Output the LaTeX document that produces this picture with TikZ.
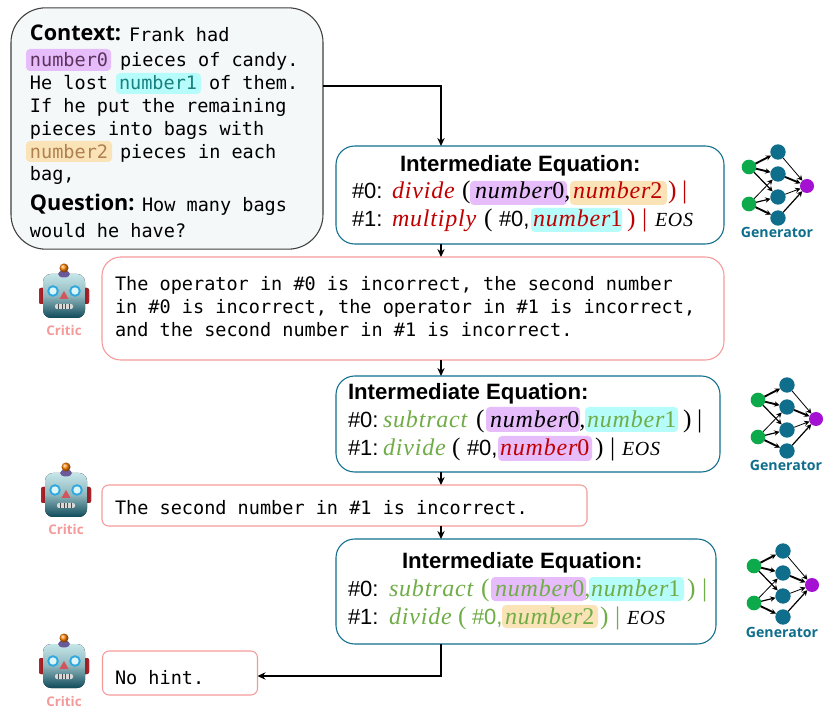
\RequirePackage{fix-cm}
\documentclass[tikz,border=0pt]{standalone}
\usepackage{fontspec}
\usetikzlibrary{arrows.meta}
\newfontfamily\monoface{DejaVu Sans Mono}
\newfontfamily\arialface{Liberation Sans}
\newfontfamily\headface{Open Sans}
\newfontfamily\eqface[LetterSpace=3.4]{Liberation Serif}
\definecolor{hlpurple}{HTML}{E6BCFB}
\definecolor{hlcyan}{HTML}{B6FCFB}
\definecolor{hlorange}{HTML}{FBE3B8}
\definecolor{eqred}{HTML}{C00000}
\definecolor{eqgreen}{HTML}{70AD47}
\definecolor{genblue}{HTML}{0F6E8C}
\definecolor{critpink}{HTML}{F59A9A}
\definecolor{ctxfill}{HTML}{F4F8F9}
\definecolor{ctxedge}{HTML}{404040}
\definecolor{nodegreen}{HTML}{0DAA4B}
\definecolor{nodepurple}{HTML}{A411D2}
\definecolor{headtop}{HTML}{C5E6E9}
\definecolor{headmid}{HTML}{8EB6BC}
\definecolor{headlow}{HTML}{0E4A5A}
\definecolor{earred}{HTML}{B3262B}
\definecolor{eardark}{HTML}{6E1418}
\definecolor{antenna}{HTML}{6B5A9A}
\definecolor{eyering}{HTML}{2FA8E0}
\definecolor{eyefill}{HTML}{DDF6F6}
\definecolor{nosered}{HTML}{D0555C}
\tikzset{
  x=0.75pt,y=-0.75pt,
  pagebox/.style={draw,inner sep=0pt,outer sep=0pt,rectangle},
  ctxbox/.style={pagebox,draw=ctxedge,fill=ctxfill,line width=0.8pt,rounded corners=26pt,minimum width=234pt,minimum height=181pt},
  eqbox/.style={pagebox,draw=genblue,line width=0.8pt,rounded corners=14pt},
  critbox/.style={pagebox,draw=critpink,line width=0.8pt},
  runtext/.style={anchor=base west,inner sep=0pt,outer sep=0pt},
  monotext/.style={runtext,font=\monoface\fontsize{13.9}{16}\selectfont},
  headtext/.style={runtext,font=\headface\bfseries\fontsize{16.2}{18}\selectfont},
  titletext/.style={runtext,font=\arialface\bfseries\fontsize{16.65}{18}\selectfont},
  hlbox/.style={rounded corners=3pt},
  thinlink/.style={line width=0.9pt,-{Stealth[length=6pt,width=5.5pt]}},
  boldlink/.style={line width=1.5pt,-{Stealth[length=6pt,width=5.5pt]}},
  netthin/.style={line width=0.6pt,-{Stealth[length=4pt,width=4pt]}},
  netmid/.style={line width=0.9pt,-{Stealth[length=4pt,width=4pt]}},
  netbold/.style={line width=1.4pt,-{Stealth[length=4pt,width=4pt]}},
  greennode/.style={circle,fill=nodegreen,minimum size=11pt,inner sep=0pt,outer sep=0pt},
  tealnode/.style={circle,fill=genblue,minimum size=11.5pt,inner sep=0pt,outer sep=0pt},
  purplenode/.style={circle,fill=nodepurple,minimum size=10.5pt,inner sep=0pt,outer sep=0pt},
  caption/.style={inner sep=0pt,outer sep=0pt,anchor=base,font=\headface\bfseries\fontsize{10.6}{13}\selectfont},
}
\newcounter{runc}
\newcommand\mrun[4]{\stepcounter{runc}\node[runtext,text=#1,font=\eqface\itshape\fontsize{18}{20}\selectfont] (run\arabic{runc}) at (#2,#3) {#4};}
\newcommand\srun[4]{\stepcounter{runc}\node[runtext,text=#1,font=\arialface\fontsize{16.5}{20}\selectfont] (run\arabic{runc}) at (#2,#3) {#4};}
\newcommand\uprun[4]{\stepcounter{runc}\node[runtext,text=#1,font=\eqface\fontsize{19}{20}\selectfont] (run\arabic{runc}) at (#2,#3) {#4};}
\newcommand\eos[2]{\stepcounter{runc}\node[runtext,font=\eqface\itshape\fontsize{15}{16}\selectfont] (run\arabic{runc}) at (#1,#2) {EOS};}
\newcommand\mono[4]{\stepcounter{runc}\node[monotext,text=#1] (run\arabic{runc}) at (#2,#3) {#4};}
\newcommand\hl[5]{\fill[hlbox,#5] (#1,#2) rectangle (#3,#4);}
\newcommand\robot[3]{%
  \begin{scope}[shift={(#1,#2)}]
    \fill[rounded corners=1.5pt,left color=earred,right color=eardark] (39,288) rectangle (47,304);
    \fill[rounded corners=1.5pt,left color=eardark,right color=earred] (81,288) rectangle (89,304);
    \fill[rounded corners=6pt,top color=headtop,bottom color=headlow,middle color=headmid] (43,274) rectangle (85,318);
    \fill[antenna] (64,274) ellipse (6 and 3.5);
    \shade[ball color=orange] (64,268) circle (4.5);
    \foreach \ex in {53,75}{\draw[line width=1.4pt,draw=eyering,fill=eyefill] (\ex,291) circle (4.8);}
    \fill[nosered] (64,291) -- (68.5,299) -- (59.5,299) -- cycle;
    \fill[rounded corners=1.5pt,black!15] (55,304) rectangle (73,309);
    \foreach \tx in {58.6,62.2,65.8,69.4}{\draw[line width=0.5pt,black!70] (\tx,304) -- (\tx,309);}
    \node[caption,text=critpink,font=\headface\bfseries\fontsize{10}{12}\selectfont] (#3) at (64,336) {Critic};
  \end{scope}}
\newcommand\netgen[3]{%
  \begin{scope}[shift={(#1,#2)},name prefix=#3]
    \node[greennode] (g1) at (749,167) {};
    \node[greennode] (g2) at (749,204) {};
    \node[tealnode] (t1) at (778,152) {};
    \node[tealnode] (t2) at (778,174) {};
    \node[tealnode] (t3) at (778,197) {};
    \node[tealnode] (t4) at (778,218) {};
    \node[purplenode] (p) at (807,186) {};
    \draw[netbold] (g1) -- (t1);
    \draw[netbold] (g1) -- (t2);
    \draw[netmid] (g1) -- (t3);
    \draw[netthin] (g2) -- (t2);
    \draw[netmid] (g2) -- (t3);
    \draw[netbold] (g2) -- (t4);
    \draw[netthin] (t1) -- (p);
    \draw[netbold] (t2) -- (p);
    \draw[netthin] (t3) -- (p);
    \draw[netmid] (t4) -- (p);
    \node[caption,text=genblue] (label) at (777,238) {Generator};
  \end{scope}}
\newcommand\numz[1]{number{\upshape #1}}
\begin{document}
\begin{tikzpicture}
\useasboundingbox[fill=white] (0,0) rectangle (840,720);
% boxes
\node[ctxbox] (ctx) at (167,128.5) {};
\node[eqbox,minimum width=291pt,minimum height=73.5pt] (eq1) at (530,195) {};
\node[critbox,rounded corners=14pt,minimum width=466.5pt,minimum height=77.25pt] (crit1) at (413,308.5) {};
\node[eqbox,minimum width=288pt,minimum height=72pt] (eq2) at (528,424) {};
\node[critbox,rounded corners=5pt,minimum width=363.75pt,minimum height=30.75pt] (crit2) at (344.5,505.5) {};
\node[eqbox,minimum width=285pt,minimum height=78.75pt] (eq3) at (526,591.5) {};
\node[critbox,rounded corners=5pt,minimum width=116.25pt,minimum height=33pt] (crit3) at (180,673) {};
% connectors
\coordinate (flowtop) at (441,86);
\coordinate (flowlow) at (441,676);
\draw[boldlink] (ctx.east|-flowtop) -- (flowtop) -- (flowtop|-eq1.north);
\draw[thinlink] (flowtop|-eq1.south) -- (flowtop|-crit1.north);
\draw[thinlink] (flowtop|-crit1.south) -- (flowtop|-eq2.north);
\draw[thinlink] (flowtop|-eq2.south) -- (flowtop|-crit2.north);
\draw[thinlink] (flowtop|-crit2.south) -- (flowtop|-eq3.north);
\draw[boldlink] (flowtop|-eq3.south) -- (flowlow) -- (crit3.east|-flowlow);
% context highlights
\hl{26}{49}{111}{71}{hlpurple}
\hl{116}{73}{201}{94}{hlcyan}
\hl{26}{141}{112}{162}{hlorange}
% context text
\node[headtext] (ctxhead) at (30,41) {Context:};
\mono{black}{129}{41.5}{Frank had}
\mono{black!45!violet!60!gray}{30}{67}{number0}
\mono{black}{120}{67}{pieces of candy.}
\mono{black}{30}{90}{He lost}
\mono{teal!80!gray}{119}{90}{number1}
\mono{black}{209}{90}{of them.}
\mono{black}{30}{113}{If he put the remaining}
\mono{black}{30}{136}{pieces into bags with}
\mono{brown!75!gray}{30}{159}{number2}
\mono{black}{120}{159}{pieces in each}
\mono{black}{30}{181}{bag,}
\node[headtext] (qhead) at (30,211) {Question:};
\mono{black}{142}{211.5}{How many bags}
\mono{black}{30}{238}{would he have?}
% equation 1
\hl{470}{181}{567}{205}{hlpurple}
\hl{570}{181}{667}{205}{hlorange}
\hl{531}{208}{622}{232}{hlcyan}
\node[titletext] (title1) at (400,172) {Intermediate Equation:};
\srun{black}{352}{199}{\#0:}
\mrun{eqred}{392}{199}{divide}
\uprun{black}{462}{199}{(}
\mrun{black}{475}{199}{\numz{0},}
\mrun{eqred}{573}{199}{\numz{2}}
\uprun{eqred}{668}{199}{)}
\uprun{eqred}{682}{199}{|}
\srun{black}{352}{227}{\#1:}
\mrun{eqred}{392}{227}{multiply}
\uprun{black}{484}{227}{(}
\srun{black}{499}{227}{\#0,}
\mrun{eqred}{533}{227}{\numz{1}}
\uprun{eqred}{627}{227}{)}
\uprun{eqred}{642}{227}{|}
\eos{655}{227}
% critic 1
\mono{black}{115}{290.5}{The operator in \#0 is incorrect, the second number}
\mono{black}{115}{314}{in \#0 is incorrect, the operator in \#1 is incorrect,}
\mono{black}{115}{336.5}{and the second number in \#1 is incorrect.}
% equation 2
\hl{486}{407}{580}{432}{hlpurple}
\hl{585}{407}{678}{432}{hlcyan}
\hl{498}{436}{592}{461}{hlpurple}
\node[titletext] (title2) at (348,400) {Intermediate Equation:};
\srun{black}{348}{428}{\#0:}
\mrun{eqgreen}{383}{428}{subtract}
\uprun{black}{476}{428}{(}
\mrun{black}{490}{428}{\numz{0},}
\mrun{eqgreen}{587}{428}{\numz{1}}
\uprun{black}{683}{428}{)}
\uprun{black}{697}{428}{|}
\srun{black}{348}{456}{\#1:}
\mrun{eqgreen}{383}{456}{divide}
\uprun{black}{452}{456}{(}
\srun{black}{467}{456}{\#0,}
\mrun{eqred}{500}{456}{\numz{0}}
\uprun{black}{595}{456}{)}
\uprun{black}{610}{456}{|}
\eos{622}{456}
% critic 2
\mono{black}{115}{515}{The second number in \#1 is incorrect.}
% equation 3
\hl{491}{577}{586}{601}{hlpurple}
\hl{589}{577}{684}{601}{hlcyan}
\hl{502}{605}{598}{628}{hlorange}
\node[titletext] (title3) at (402,568) {Intermediate Equation:};
\srun{black}{348}{596}{\#0:}
\mrun{eqgreen}{389}{596}{subtract}
\uprun{eqgreen}{481}{596}{(}
\mrun{eqgreen}{495}{596}{\numz{0},}
\mrun{eqgreen}{591}{596}{\numz{1}}
\uprun{eqgreen}{687}{596}{)}
\uprun{eqgreen}{702}{596}{|}
\srun{black}{348}{624}{\#1:}
\mrun{eqgreen}{389}{624}{divide}
\uprun{eqgreen}{458}{624}{(}
\srun{eqgreen}{472}{624}{\#0,}
\mrun{eqgreen}{505}{624}{\numz{2}}
\uprun{eqgreen}{600}{624}{)}
\uprun{eqgreen}{615}{624}{|}
\eos{627}{624}
% critic 3
\mono{black}{115}{684}{No hint.}
% robots and networks
\robot{0}{0}{critic1}
\robot{2}{199}{critic2}
\robot{0}{370}{critic3}
\netgen{0}{0}{gena}
\netgen{9}{233}{genb}
\netgen{5}{399}{genc}
\end{tikzpicture}
\end{document}
